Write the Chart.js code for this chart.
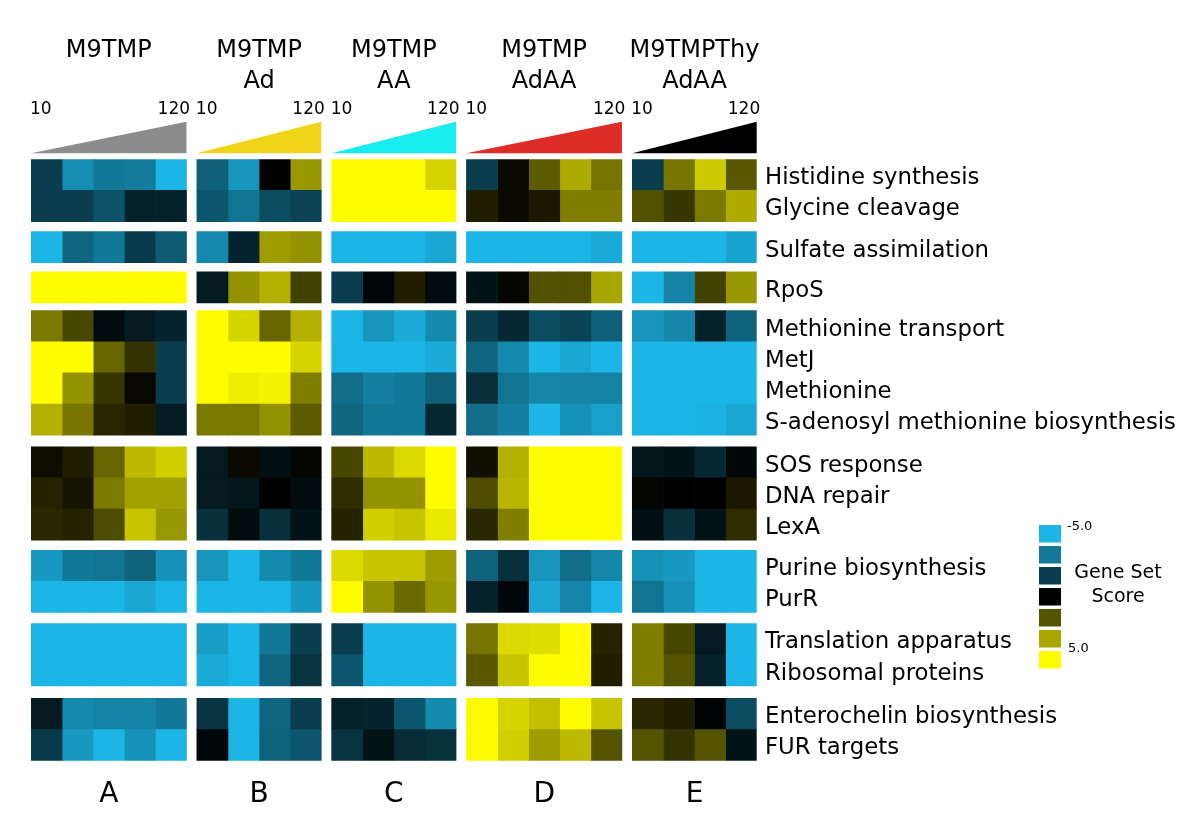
<!DOCTYPE html>
<html>
<head>
<meta charset="utf-8">
<script src="https://cdn.jsdelivr.net/npm/chart.js@4"></script>
<style>
html,body{margin:0;padding:0;background:#fff;}
#wrap{width:1200px;height:835px;position:relative;}
</style>
</head>
<body>
<div id="wrap"><canvas id="c"></canvas></div>
<script>
// ---------------- DATA ----------------
const rowLabels = [
  'Histidine synthesis','Glycine cleavage',
  'Sulfate assimilation',
  'RpoS',
  'Methionine transport','MetJ','Methionine','S-adenosyl methionine biosynthesis',
  'SOS response','DNA repair','LexA',
  'Purine biosynthesis','PurR',
  'Translation apparatus','Ribosomal proteins',
  'Enterochelin biosynthesis','FUR targets'
];
const groupRowCounts = [2, 1, 1, 4, 3, 2, 2, 2];
const conditions = [['M9TMP'], ['M9TMP','Ad'], ['M9TMP','AA'], ['M9TMP','AdAA'], ['M9TMPThy','AdAA']];
const panelLetters = ['A','B','C','D','E'];
const timeLabels = ['10','120'];
const legendValues = [-5, -3.33, -1.67, 0, 1.67, 3.33, 5];
const legendTickLabels = ['-5.0','5.0'];
const legendTitle = ['Gene Set','Score'];

const valuesA = [
  [-1.7, -3.9, -3.3, -3.4, -5],
  [-1.7, -1.7, -2.3, -0.9, -0.9],
  [-5, -2.8, -3.3, -1.6, -2.5],
  [5, 5, 5, 5, 5],
  [2.4, 1.4, -0.3, -0.7, -1.0],
  [5, 5, 2.0, 1.0, -1.7],
  [5, 2.9, 1.1, 0.15, -1.7],
  [3.5, 2.35, 0.75, 0.6, -0.75],
  [0.25, 0.6, 2.0, 3.7, 4.1],
  [0.7, 0.4, 2.4, 3.2, 3.2],
  [0.8, 0.7, 1.5, 3.9, 3.0],
  [-4.2, -3.3, -3.2, -2.7, -4.0],
  [-5, -5, -5, -4.6, -5],
  [-5, -5, -5, -5, -5],
  [-5, -5, -5, -5, -5],
  [-0.7, -3.8, -3.6, -3.6, -3.3],
  [-1.6, -4.2, -5, -4.0, -5]
];
const valuesB = [
  [-2.6, -4.1, 0, 3.0],
  [-2.4, -3.2, -2.1, -1.8],
  [-3.8, -1.0, 3.1, 2.9],
  [-0.7, 2.9, 3.5, 1.3],
  [5, 4.2, 2.0, 3.5],
  [5, 5, 5, 4.2],
  [5, 4.7, 4.8, 2.5],
  [2.4, 2.4, 2.9, 1.8],
  [-0.7, 0.2, -0.4, 0.1],
  [-0.7, -0.6, 0, -0.3],
  [-1.3, -0.3, -1.3, -0.5],
  [-4.1, -5, -3.8, -3.3],
  [-5, -5, -5, -4.2],
  [-4.3, -5, -3.3, -1.7],
  [-4.7, -5, -2.8, -1.4],
  [-1.4, -5, -2.8, -1.7],
  [-0.2, -5, -2.7, -2.4]
];
const valuesC = [
  [5, 5, 5, 4.2],
  [5, 5, 5, 5],
  [-5, -5, -5, -4.6],
  [-1.7, -0.2, 0.6, -0.3],
  [-5, -4.1, -4.7, -3.8],
  [-5, -5, -5, -4.7],
  [-3.0, -3.5, -3.3, -2.6],
  [-2.8, -3.3, -3.3, -1.1],
  [1.4, 3.7, 4.3, 5],
  [0.9, 2.9, 2.9, 5],
  [0.7, 4.1, 3.9, 4.6],
  [4.3, 3.9, 3.9, 3.1],
  [5, 2.9, 2.1, 3.0],
  [-1.7, -5, -5, -5],
  [-2.4, -5, -5, -5],
  [-0.9, -1.0, -2.4, -3.8],
  [-1.4, -0.55, -1.2, -1.35]
];
const valuesD = [
  [-1.7, 0.2, 1.8, 3.4, 2.3],
  [0.6, 0.2, 0.5, 2.5, 2.5],
  [-5, -5, -5, -5, -4.7],
  [-0.5, 0.1, 1.6, 1.6, 3.3],
  [-1.7, -1.1, -2.1, -1.85, -2.6],
  [-2.8, -3.8, -5, -4.6, -5],
  [-1.3, -3.2, -3.7, -3.6, -3.6],
  [-3.0, -3.5, -5, -4.0, -4.4],
  [0.3, 3.5, 5, 5, 5],
  [1.5, 3.6, 5, 5, 5],
  [0.8, 2.5, 5, 5, 5],
  [-2.7, -1.3, -4.1, -3.0, -3.7],
  [-0.9, -0.2, -4.6, -3.65, -5],
  [2.3, 4.3, 4.4, 5, 0.7],
  [1.75, 3.9, 5, 5, 0.6],
  [5, 4.2, 3.8, 5, 3.9],
  [5, 4.1, 3.1, 3.7, 1.65]
];
const valuesE = [
  [-1.7, 2.35, 4.0, 1.75],
  [1.6, 1.1, 2.4, 3.4],
  [-5, -5, -5, -4.5],
  [-5, -3.6, 1.3, 3.0],
  [-4.1, -3.7, -0.9, -2.7],
  [-5, -5, -5, -5],
  [-5, -5, -5, -5],
  [-5, -5, -4.9, -4.6],
  [-0.6, -0.55, -1.1, -0.2],
  [0.1, 0, 0, 0.5],
  [-0.4, -1.3, -0.5, 0.9],
  [-4.0, -4.2, -5, -5],
  [-3.2, -4.0, -5, -5],
  [2.5, 1.4, -0.7, -5],
  [2.5, 1.65, -0.9, -5],
  [0.8, 0.6, -0.1, -2.1],
  [1.65, 1.0, 1.65, -0.55]
];
const panels = [valuesA, valuesB, valuesC, valuesD, valuesE];

// ---------------- LAYOUT / STYLE ----------------
const FONT = '"DejaVu Sans", "Liberation Sans", Arial, sans-serif';
const GAP_X = 1/3;
const ROW_GAPS = [0.321, 0.289, 0.247, 0.372, 0.321, 0.353, 0.404];
const LABEL_SHIFT = 0.11;
const AREA = {left: 31, top: 159.3, right: 756.7, bottom: 760.7};
const triColors = ['#8c8c8c', '#efd41a', '#17ecee', '#de2d26', '#000000'];

function heatColor(v) {
  const t = Math.max(-1, Math.min(1, v / 5));
  if (t < 0) {
    const a = -t;
    return 'rgb(' + Math.round(28*a) + ',' + Math.round(182*a) + ',' + Math.round(230*a) + ')';
  }
  return 'rgb(' + Math.round(255*t) + ',' + Math.round(252*t) + ',0)';
}

// column extents per panel
const panelRanges = [];
let cx = 0;
panels.forEach(vals => {
  const n = vals[0].length;
  panelRanges.push({start: cx, end: cx + n});
  cx += n + GAP_X;
});
const xMax = cx - GAP_X;
const panelCenters = panelRanges.map(r => (r.start + r.end) / 2);

// row centres
const rowCenters = [];
let cy = 0;
groupRowCounts.forEach((n, g) => {
  for (let k = 0; k < n; k++) { rowCenters.push(cy); cy += 1; }
  if (g < groupRowCounts.length - 1) cy += ROW_GAPS[g];
});
const yMin = -0.5, yMax = rowCenters[rowCenters.length - 1] + 0.5;

// datasets: one per heatmap column
const datasets = [];
panels.forEach((vals, p) => {
  const n = vals[0].length;
  for (let c = 0; c < n; c++) {
    const x0 = panelRanges[p].start + c;
    datasets.push({
      xAxisID: 'x', yAxisID: 'y',
      data: vals.map((row, i) => ({y: rowCenters[i], x: [x0, x0 + 1], v: row[c]})),
      backgroundColor: ctx => heatColor(ctx.raw ? ctx.raw.v : 0),
      borderWidth: 0,
      barPercentage: 1,
      categoryPercentage: 1,
      grouped: false
    });
  }
});

const decoPlugin = {
  id: 'deco',
  afterDraw(chart) {
    const ctx = chart.ctx;
    const xs = chart.scales.x;
    ctx.save();
    panelRanges.forEach((r, p) => {
      const x0 = xs.getPixelForValue(r.start);
      const x1 = xs.getPixelForValue(r.end);
      const xc = (x0 + x1) / 2;
      // triangle
      ctx.fillStyle = triColors[p];
      ctx.beginPath();
      ctx.moveTo(x0, 153.3);
      ctx.lineTo(x1, 121.7);
      ctx.lineTo(x1, 153.3);
      ctx.closePath();
      ctx.fill();
      // headers
      ctx.fillStyle = '#000';
      ctx.textBaseline = 'middle';
      ctx.textAlign = 'center';
      ctx.font = '24px ' + FONT;
      conditions[p].forEach((t, k) => ctx.fillText(t, xc, 51 + k * 31));
      // time labels
      ctx.font = '17px ' + FONT;
      ctx.textAlign = 'left';
      ctx.fillText(timeLabels[0], x0 - 1, 109.5);
      ctx.textAlign = 'right';
      ctx.fillText(timeLabels[1], x1 + 3.5, 109.5);
    });
    // colour legend
    legendValues.forEach((v, i) => {
      ctx.fillStyle = heatColor(v);
      ctx.fillRect(1039, 525 + i * 21, 22, 17.5);
    });
    ctx.fillStyle = '#000';
    ctx.textAlign = 'left';
    ctx.textBaseline = 'middle';
    ctx.font = '13px ' + FONT;
    ctx.fillText(legendTickLabels[0], 1067, 527);
    ctx.fillText(legendTickLabels[1], 1068, 649);
    ctx.textAlign = 'center';
    ctx.font = '19px ' + FONT;
    ctx.fillText(legendTitle[0], 1118, 573);
    ctx.fillText(legendTitle[1], 1118, 597);
    ctx.restore();
  }
};

new Chart(document.getElementById('c'), {
  type: 'bar',
  data: {datasets},
  options: {
    indexAxis: 'y',
    responsive: true,
    maintainAspectRatio: false,
    animation: false,
    events: [],
    layout: {padding: {left: AREA.left, top: AREA.top, right: 0, bottom: 0}},
    plugins: {legend: {display: false}, tooltip: {enabled: false}},
    scales: {
      x: {
        type: 'linear', position: 'bottom', display: false,
        offset: false, min: 0, max: xMax
      },
      letters: {
        type: 'linear', axis: 'x', position: 'bottom',
        offset: false, min: 0, max: xMax,
        grid: {display: false, drawTicks: false},
        border: {display: false},
        afterBuildTicks: s => { s.ticks = panelCenters.map(v => ({value: v})); },
        afterFit: s => { s.height = s.chart.height - AREA.bottom; },
        ticks: {
          autoSkip: false, maxRotation: 0, padding: 17,
          font: {family: FONT, size: 28}, color: '#000',
          callback: (v, i) => panelLetters[i]
        }
      },
      y: {
        type: 'linear', position: 'right', reverse: true,
        offset: false, min: yMin, max: yMax,
        grid: {display: false, drawTicks: false},
        border: {display: false},
        afterBuildTicks: s => { s.ticks = rowCenters.map(v => ({value: v + LABEL_SHIFT})); },
        afterFit: s => { s.width = s.chart.width - AREA.right; },
        ticks: {
          autoSkip: false, padding: 8.3,
          font: {family: FONT, size: 22.8}, color: '#000',
          callback: (v, i) => rowLabels[i]
        }
      }
    }
  },
  plugins: [decoPlugin]
});
</script>
</body>
</html>
